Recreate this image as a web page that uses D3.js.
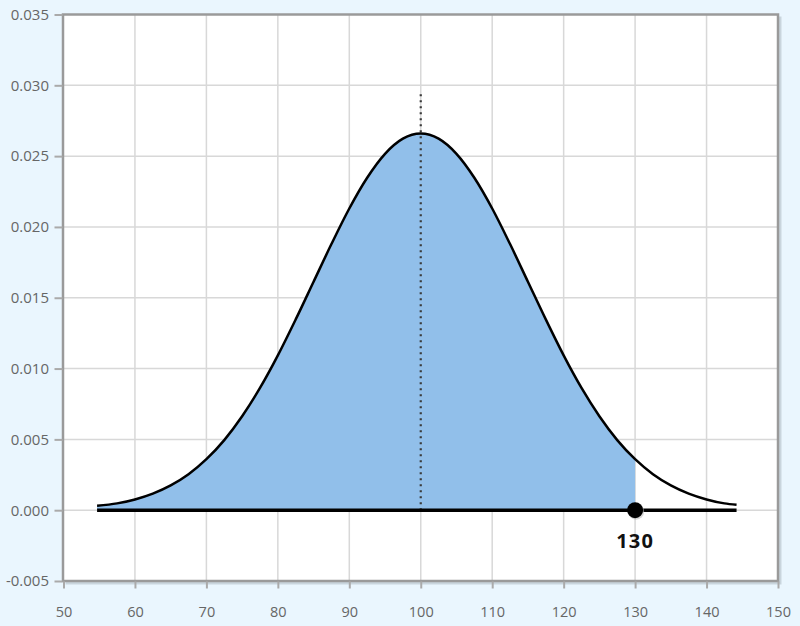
<!DOCTYPE html>
<html><head><meta charset="utf-8">
<script src="https://cdn.jsdelivr.net/npm/d3@7"></script>
<style>
html,body{margin:0;padding:0;background:#eaf6fe;}
svg{display:block;font-family:"Open Sans","Noto Sans",sans-serif;}
</style></head>
<body>
<svg id="chart" width="800" height="626"></svg>
<script>
// Density curve points (x, density)
const curveX = [54.7,57.5,60,62.5,65,67.5,70,72.5,75,77.5,80,82.5,85,87.5,90,92.5,95,97.5,100,102.5,105,107.5,110,112.5,115,117.5,120,122.5,125,127.5,130,132.5,135,137.5,140,142.5,144.2];
const curveY = [0.00032,0.00048,0.00076,0.00117,0.00175,0.00254,0.00360,0.00495,0.00663,0.00863,0.01093,0.01347,0.01613,0.01879,0.02130,0.02347,0.02516,0.02623,0.02660,0.02623,0.02516,0.02347,0.02130,0.01879,0.01613,0.01347,0.01093,0.00863,0.00663,0.00495,0.00360,0.00254,0.00175,0.00117,0.00076,0.00048,0.00038];
const xTicks = [50,60,70,80,90,100,110,120,130,140,150];
const yTicks = [-0.005,0,0.005,0.010,0.015,0.020,0.025,0.030,0.035];
const meanValue = 100;
const meanLineTop = 0.0294;
const cutoffValue = 130;
const cutoffLabel = "130";

const svg = d3.select("#chart");
const L = 63.5, R = 778, T = 14.5, B = 581;
const x = d3.scaleLinear().domain([50,150]).range([L,R]);
const y = d3.scaleLinear().domain([-0.005,0.035]).range([B,T]);

// shadow & plot background
svg.append("rect").attr("x",L+2).attr("y",T+2).attr("width",R-L+1.5).attr("height",B-T+1.5).attr("fill","#c9d5dd");
svg.append("rect").attr("x",L).attr("y",T).attr("width",R-L).attr("height",B-T).attr("fill","#fff");

// grid
const g = svg.append("g");
g.selectAll(".vg").data(xTicks.slice(1,-1)).join("line")
  .attr("x1",d=>x(d)).attr("x2",d=>x(d)).attr("y1",T).attr("y2",B)
  .attr("stroke","#d8d8d8").attr("stroke-width",1.5);
g.selectAll(".hg").data(yTicks.slice(1,-1)).join("line")
  .attr("x1",L).attr("x2",R).attr("y1",d=>y(d)).attr("y2",d=>y(d))
  .attr("stroke","#d8d8d8").attr("stroke-width",1.5);

const pts = curveX.map((d,i)=>({x:d,y:curveY[i]}));
const shaded = pts.filter(p=>p.x<=cutoffValue);

// area
svg.append("path").datum(shaded)
  .attr("d", d3.area().x(d=>x(d.x)).y0(y(0)).y1(d=>y(d.y)).curve(d3.curveMonotoneX))
  .attr("fill","#91bfea");

// mean dotted line
svg.append("line").attr("x1",x(meanValue)).attr("x2",x(meanValue))
  .attr("y1",y(0)).attr("y2",y(meanLineTop))
  .attr("stroke","#3a3a3a").attr("stroke-width",2.2).attr("stroke-dasharray","2,4");

// curve
svg.append("path").datum(pts)
  .attr("d", d3.line().x(d=>x(d.x)).y(d=>y(d.y)).curve(d3.curveMonotoneX))
  .attr("fill","none").attr("stroke","#000").attr("stroke-width",2.5);

// baseline
svg.append("line").attr("x1",x(curveX[0])).attr("x2",x(curveX[curveX.length-1]))
  .attr("y1",y(0)).attr("y2",y(0)).attr("stroke","#000").attr("stroke-width",3.5);

// cutoff point
svg.append("circle").attr("cx",x(cutoffValue)+1).attr("cy",y(0)+1.5).attr("r",8).attr("fill","#bbb").attr("opacity",0.6);
svg.append("circle").attr("cx",x(cutoffValue)).attr("cy",y(0)).attr("r",8).attr("fill","#000");
svg.append("text").attr("x",x(cutoffValue)).attr("y",y(0)+37.6).attr("text-anchor","middle")
  .attr("font-size",20).attr("font-weight","bold").attr("letter-spacing",1.2).attr("fill","#111").text(cutoffLabel);

// border
svg.append("rect").attr("x",L-0.5).attr("y",T).attr("width",R-L+0.5).attr("height",B-T)
  .attr("fill","none").attr("stroke","#9a9a9a").attr("stroke-width",2.5);

// axes
const yAxis = svg.append("g").attr("transform",`translate(${L-1},0)`)
  .call(d3.axisLeft(y).tickValues(yTicks).tickFormat(d3.format(".3f")).tickSize(8).tickPadding(5.5));
const xAxis = svg.append("g").attr("transform",`translate(0,${B+0.5})`)
  .call(d3.axisBottom(x).tickValues(xTicks).tickSize(7).tickPadding(18));
[yAxis,xAxis].forEach(a=>{
  a.select(".domain").remove();
  a.selectAll(".tick line").attr("stroke","#aaa").attr("stroke-width",2);
  a.selectAll(".tick text").attr("fill","#666").attr("font-size",15)
   .attr("font-family","'Open Sans','Noto Sans',sans-serif");
});
xAxis.selectAll(".tick text").attr("font-size",14.5);
yAxis.selectAll(".tick text").text(d=> d<0 ? "-"+d3.format(".3f")(-d) : d3.format(".3f")(d));
</script>
</body></html>
